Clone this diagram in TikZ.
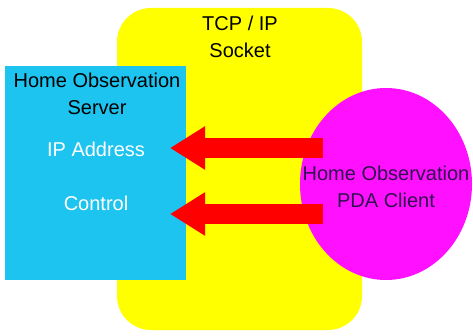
\documentclass[tikz,border=0pt]{standalone}
\usepackage{fontspec}
\setmainfont{Liberation Sans}
\usetikzlibrary{arrows.meta,shapes.geometric}
\definecolor{sockyellow}{HTML}{FFFF00}
\definecolor{servcyan}{HTML}{1EC4F0}
\definecolor{clientmag}{HTML}{FF10FF}
\definecolor{flowred}{HTML}{FF0000}
\definecolor{clienttext}{HTML}{301050}
\begin{document}
\begin{tikzpicture}[x=1pt,y=-1pt,
  lbl/.style={font=\fontsize{20}{27}\selectfont, align=center, inner sep=0pt},
  flow/.style={draw=flowred, line width=20pt,
    -{Triangle[width=41pt,length=35pt]}}]
\useasboundingbox (0,0) rectangle (473,336);
% TCP/IP socket band
\node[fill=sockyellow, rounded corners=34pt, minimum width=245pt,
      minimum height=322pt, inner sep=0pt] (socket) at (239.5,169) {};
\node[lbl] (socklbl) at (240,37) {TCP / IP\\Socket};
% server box
\node[fill=servcyan, minimum width=181pt, minimum height=214pt,
      inner sep=0pt] (server) at (95.5,173) {};
\node[lbl] (servlbl) at (97,94) {Home Observation\\Server};
\node[lbl, text=white] (ipaddr) at (96,149) {IP Address};
\node[lbl, text=white] (control) at (96,203) {Control};
% client ellipse
\node[ellipse, fill=clientmag, minimum width=172pt, minimum height=192pt,
      inner sep=0pt] (client) at (386,184) {};
\node[lbl, text=clienttext] (clientlbl) at (386,187) {Home Observation\\PDA Client};
% data flows from client to server
\coordinate (ipsrc) at (323,148);
\coordinate (ipdst) at (170,148);
\coordinate (ctlsrc) at (323,214);
\coordinate (ctldst) at (170,214);
\draw[flow] (ipsrc) -- (ipdst);
\draw[flow] (ctlsrc) -- (ctldst);
\end{tikzpicture}
\end{document}
